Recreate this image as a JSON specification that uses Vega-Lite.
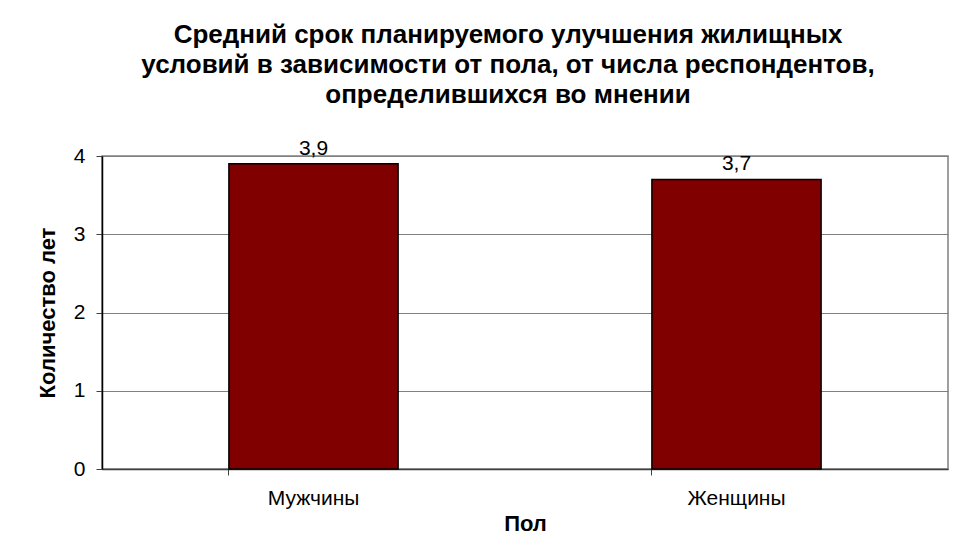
{
  "$schema": "https://vega.github.io/schema/vega-lite/v6.json",
  "autosize": {"type": "none"},
  "width": 846,
  "height": 313,
  "padding": {"left": 102, "top": 156, "right": 18, "bottom": 89},
  "background": "white",
  "config": {
    "font": "Liberation Sans",
    "locale": {"number": {"decimal": ",", "thousands": " ", "grouping": [3], "currency": ["", ""]}},
    "view": {"stroke": "#808080", "strokeWidth": 1.5}
  },
  "title": {
    "text": ["Средний срок планируемого улучшения жилищных", "условий в зависимости от пола, от числа респондентов,", "определившихся во мнении"],
    "anchor": "middle",
    "frame": "group",
    "font": "Liberation Sans",
    "fontSize": 26,
    "fontWeight": "bold",
    "color": "black",
    "lineHeight": 30,
    "baseline": "alphabetic",
    "dx": -17,
    "offset": 9
  },
  "data": {
    "values": [
      {"sex": "Мужчины", "years": 3.9},
      {"sex": "Женщины", "years": 3.7}
    ]
  },
  "encoding": {
    "x": {
      "field": "sex",
      "type": "nominal",
      "sort": null,
      "scale": {"paddingInner": 0.6, "paddingOuter": 0.3},
      "axis": {
        "title": "Пол",
        "titleFontSize": 22,
        "titleFontWeight": "bold",
        "titleColor": "black",
        "titlePadding": 5,
        "labelAngle": 0,
        "labelFontSize": 21,
        "labelColor": "black",
        "labelPadding": 12,
        "tickSize": 6,
        "tickColor": "#404040",
        "bandPosition": 0,
        "domainColor": "#404040",
        "domainWidth": 1.5,
        "grid": false
      }
    },
    "y": {
      "field": "years",
      "type": "quantitative",
      "scale": {"domain": [0, 4], "nice": false},
      "axis": {
        "title": "Количество лет",
        "titleFontSize": 22,
        "titleFontWeight": "bold",
        "titleColor": "black",
        "titlePadding": 14,
        "values": [0, 1, 2, 3, 4],
        "format": "d",
        "labelFontSize": 21,
        "labelColor": "black",
        "labelPadding": 11,
        "tickSize": 6,
        "tickColor": "#404040",
        "domainColor": "black",
        "domainWidth": 1.5,
        "grid": true,
        "gridColor": "#808080",
        "gridWidth": 1.2
      }
    }
  },
  "layer": [
    {
      "mark": {"type": "bar", "color": "#800000", "stroke": "black", "strokeWidth": 1.5}
    },
    {
      "mark": {"type": "text", "baseline": "alphabetic", "dy": -9, "fontSize": 21, "color": "black", "font": "Liberation Sans"},
      "encoding": {
        "text": {"field": "years", "type": "quantitative", "format": ".1f"}
      }
    }
  ]
}
